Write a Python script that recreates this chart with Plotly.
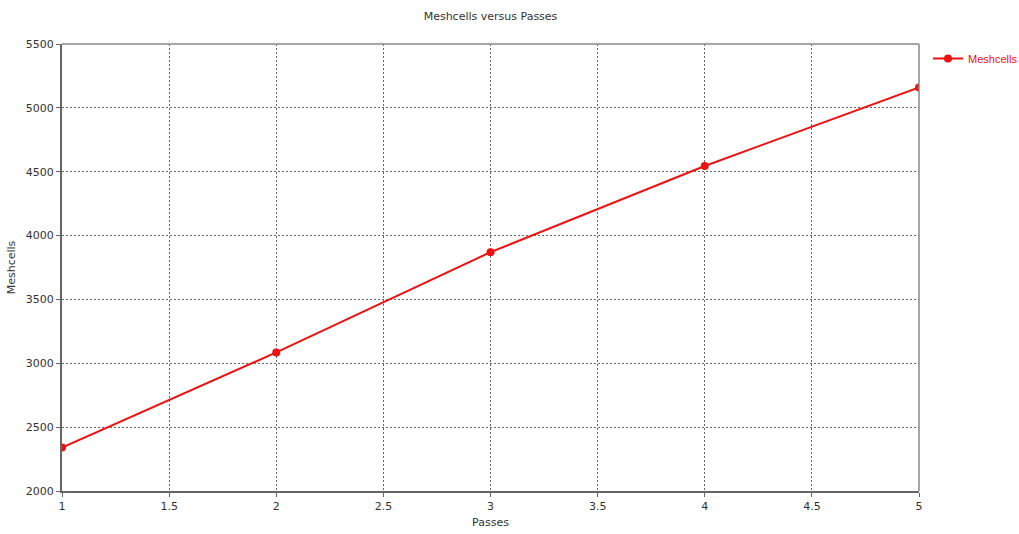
import plotly.graph_objects as go

passes = [1, 2, 3, 4, 5]
meshcells = [2340, 3085, 3870, 4545, 5160]
series_name = "Meshcells"
x_ticks = [1, 1.5, 2, 2.5, 3, 3.5, 4, 4.5, 5]
y_ticks = [2000, 2500, 3000, 3500, 4000, 4500, 5000, 5500]

fig = go.Figure()
fig.add_trace(go.Scatter(
    x=passes, y=meshcells, mode="lines+markers", name=series_name,
    line=dict(color="#ee1111", width=2),
    marker=dict(color="#ee1111", size=8),
))

font = "DejaVu Sans"
fig.update_layout(
    width=1019, height=534,
    margin=dict(l=62, r=100, t=44, b=43, autoexpand=False),
    paper_bgcolor="white", plot_bgcolor="white",
    font=dict(family=font, size=11, color="#333333"),
    title=dict(text="Meshcells versus Passes", x=0.5, xref="paper", y=0.97, yref="container",
               xanchor="center", yanchor="middle", font=dict(size=11, color="#333333")),
    showlegend=True,
    legend=dict(x=928 / 1019, xref="container", y=1 - 44 / 534, yref="container",
                xanchor="left", yanchor="top", bgcolor="rgba(0,0,0,0)",
                itemwidth=30,
                font=dict(family="Liberation Sans", size=11, color="#ee1111")),
    xaxis=dict(
        title=dict(text="Passes", font=dict(size=11), standoff=6),
        range=[1, 5], tickvals=x_ticks, ticktext=[str(v) for v in x_ticks],
        showgrid=True, gridcolor="#666666", griddash="2px,2px", gridwidth=1,
        showline=True, linecolor="#666666", linewidth=2, mirror=False,
        ticks="outside", ticklen=4, tickcolor="#666666", zeroline=False,
    ),
    yaxis=dict(
        title=dict(text="Meshcells", font=dict(size=11), standoff=8),
        range=[2000, 5500], tickvals=y_ticks,
        showgrid=True, gridcolor="#666666", griddash="2px,2px", gridwidth=1,
        showline=True, linecolor="#666666", linewidth=2, mirror=False,
        ticks="outside", ticklen=4, tickcolor="#666666", zeroline=False,
    ),
)
# top/right frame lines (lighter)
fig.add_shape(type="line", xref="paper", yref="paper", x0=0, x1=1, y0=1, y1=1,
              line=dict(color="#888888", width=1.5))
fig.add_shape(type="line", xref="paper", yref="paper", x0=1, x1=1, y0=0, y1=1,
              line=dict(color="#888888", width=1.5))

fig.write_html("out.html")
